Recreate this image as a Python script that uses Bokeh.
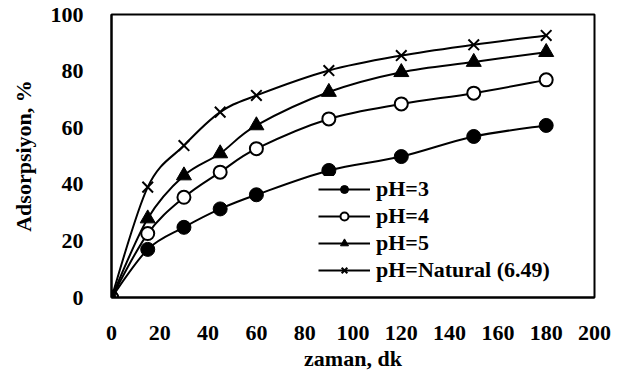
from bokeh.plotting import figure
from bokeh.models import Range1d, FixedTicker, Legend, LegendItem
from bokeh.embed import file_html
from bokeh.resources import INLINE

# ---- data ----
time_min = [0, 15, 30, 45, 60, 90, 120, 150, 180]
ph3 = [0, 17.0, 24.8, 31.3, 36.3, 44.9, 49.8, 56.9, 60.8]
ph4 = [0, 22.6, 35.4, 44.3, 52.6, 63.1, 68.4, 72.2, 76.9]
ph5 = [0, 27.9, 43.1, 50.9, 60.8, 72.6, 79.6, 83.2, 86.7]
ph_natural = [0, 39.0, 53.7, 65.5, 71.4, 80.2, 85.5, 89.3, 92.6]
series_labels = ["pH=3", "pH=4", "pH=5", "pH=Natural (6.49)"]
x_ticks = [0, 20, 40, 60, 80, 100, 120, 140, 160, 180, 200]
y_ticks = [0, 20, 40, 60, 80, 100]
x_title = "zaman, dk"
y_title = "Adsorpsiyon, %"

FONT = "Liberation Serif"
FSIZE = "22px"


def smooth_segments(xs, ys):
    """Cubic Bezier segments (Catmull-Rom) through the data points, like a smoothed line."""
    n = len(xs)
    out = dict(x0=[], y0=[], x1=[], y1=[], cx0=[], cy0=[], cx1=[], cy1=[])
    for i in range(n - 1):
        xm, ym = (xs[i - 1], ys[i - 1]) if i > 0 else (xs[i], ys[i])
        xp, yp = (xs[i + 2], ys[i + 2]) if i + 2 < n else (xs[i + 1], ys[i + 1])
        out["x0"].append(xs[i]); out["y0"].append(ys[i])
        out["x1"].append(xs[i + 1]); out["y1"].append(ys[i + 1])
        out["cx0"].append(xs[i] + (xs[i + 1] - xm) / 6.0)
        out["cy0"].append(ys[i] + (ys[i + 1] - ym) / 6.0)
        out["cx1"].append(xs[i + 1] - (xp - xs[i]) / 6.0)
        out["cy1"].append(ys[i + 1] - (yp - ys[i]) / 6.0)
    return out


p = figure(width=626, height=373, x_range=Range1d(0, 200), y_range=Range1d(0, 100),
           output_backend="svg", toolbar_location=None,
           min_border_left=111, min_border_right=32, min_border_top=14, min_border_bottom=76)
p.outline_line_color = "black"
p.outline_line_width = 2
p.outline_line_alpha = 1.0
p.xgrid.visible = False
p.ygrid.visible = False

p.xaxis.ticker = FixedTicker(ticks=x_ticks)
p.yaxis.ticker = FixedTicker(ticks=y_ticks)
p.xaxis.axis_label = x_title
p.yaxis.axis_label = y_title
for axes in (p.xaxis, p.yaxis):
    axes.axis_line_width = 2
    axes.axis_line_color = "black"
    axes.major_tick_line_color = None
    axes.minor_tick_line_color = None
    axes.major_label_text_font = FONT
    axes.major_label_text_font_style = "bold"
    axes.major_label_text_font_size = FSIZE
    axes.major_label_text_color = "black"
    axes.axis_label_text_font = FONT
    axes.axis_label_text_font_style = "bold"
    axes.axis_label_text_font_size = FSIZE
    axes.axis_label_text_color = "black"
p.xaxis.major_label_standoff = 22
p.xaxis.axis_label_standoff = 3
p.yaxis.major_label_standoff = 22
p.yaxis.axis_label_standoff = 12

series = [ph3, ph4, ph5, ph_natural]
marker_styles = [
    dict(marker="circle", size=14, fill_color="black", line_color="black", line_width=1),
    dict(marker="circle", size=13, fill_color="white", line_color="black", line_width=2),
    dict(marker="triangle", size=15, fill_color="black", line_color="black", line_width=1),
    dict(marker="x", size=15, line_color="black", line_width=2),
]

nan = float("nan")
items = []
for vals, style, lab in zip(series, marker_styles, series_labels):
    seg = smooth_segments(time_min, vals)
    p.bezier(x0="x0", y0="y0", x1="x1", y1="y1", cx0="cx0", cy0="cy0", cx1="cx1", cy1="cy1",
             source=seg, line_color="black", line_width=2)
    # a line renderer with no drawable point, only to show the line in the legend
    leg_line = p.line(x=[nan], y=[nan], line_color="black", line_width=2)
    sc = p.scatter(time_min, vals, **style)
    items.append(LegendItem(label=lab, renderers=[leg_line, sc]))

legend = Legend(items=items, location=(207, 14))
legend.border_line_color = None
legend.background_fill_color = "white"
legend.background_fill_alpha = 1.0
legend.label_text_font = FONT
legend.label_text_font_style = "bold"
legend.label_text_font_size = FSIZE
legend.label_text_color = "black"
legend.glyph_width = 52
legend.glyph_height = 20
legend.label_height = 20
legend.spacing = 1
legend.padding = 0
legend.margin = 0
legend.label_standoff = 6
p.add_layout(legend)

open("out.html", "w").write(file_html(p, INLINE))
